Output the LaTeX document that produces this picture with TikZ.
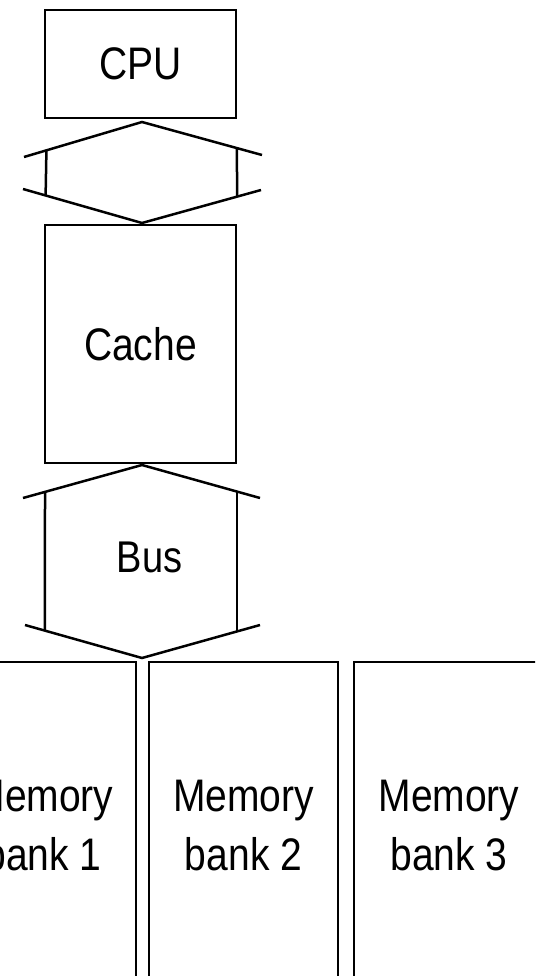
\documentclass[tikz,border=0pt]{standalone}
\usepackage{fontspec}
\setmainfont{Liberation Sans}
\usetikzlibrary{calc}
\newcommand{\tall}[1]{\scalebox{1}[1.17]{#1}}
\begin{document}
\begin{tikzpicture}[x=1pt, y=-1pt, line width=2.5pt,
    unitbox/.style={draw, rectangle, inner sep=0pt, font=\fontsize{39}{59}\selectfont, align=center},
    banktext/.style={unitbox}]
    \useasboundingbox (0,0) rectangle (535,976);
    \clip (0,0) rectangle (535,976);

    \node[unitbox, minimum width=191pt, minimum height=108pt] (cpu) at (140.5,64) {\tall{CPU}};
    \node[unitbox, minimum width=191pt, minimum height=238pt] (cache) at (140.5,344) {\tall{Cache}};
    \node[font=\fontsize{38}{50}\selectfont] (bus) at (149.5,557) {\tall{Bus}};

    \node[banktext, minimum width=186pt, minimum height=328pt] (bank1) at (43,826) {\tall{Memory}\\\tall{bank 1}};
    \node[banktext, minimum width=189pt, minimum height=328pt] (bank2) at (243.5,826) {\tall{Memory}\\\tall{bank 2}};
    \node[banktext, minimum width=190pt, minimum height=328pt] (bank3) at (449,826) {\tall{Memory}\\\tall{bank 3}};

    % link between CPU and cache
    \coordinate (lktop) at (142,122);
    \coordinate (lkbot) at (142,223);
    \coordinate (lkl1) at (24,157);
    \coordinate (lkr1) at (262,155);
    \coordinate (lkl2) at (23,189);
    \coordinate (lkr2) at (261,190);
    \draw (lkl1) -- (lktop) -- (lkr1);
    \draw (lkl2) -- (lkbot) -- (lkr2);
    \draw ($(lktop)!0.81!(lkl1)$) -- ($(lkbot)!0.81!(lkl2)$);
    \draw ($(lktop)!0.79!(lkr1)$) -- ($(lkbot)!0.80!(lkr2)$);

    % bus between cache and memory banks
    \coordinate (bstop) at (142,465);
    \coordinate (bsbot) at (142,658);
    \coordinate (bsl1) at (23,498);
    \coordinate (bsr1) at (260,498);
    \coordinate (bsl2) at (25,625);
    \coordinate (bsr2) at (260,625);
    \draw (bsl1) -- (bstop) -- (bsr1);
    \draw (bsl2) -- (bsbot) -- (bsr2);
    \draw ($(bstop)!0.815!(bsl1)$) -- ($(bsbot)!0.83!(bsl2)$);
    \draw ($(bstop)!0.805!(bsr1)$) -- ($(bsbot)!0.805!(bsr2)$);
\end{tikzpicture}
\end{document}
